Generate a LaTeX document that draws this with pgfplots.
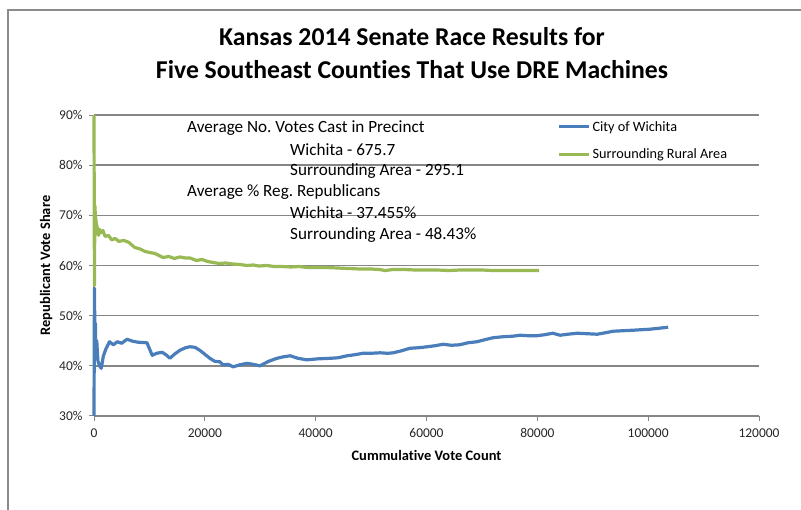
\documentclass[border=0pt]{standalone}
\usepackage{fontspec}
\setmainfont{Carlito}[Ligatures=NoCommon]
\usepackage{pgfplots}
\pgfplotsset{compat=1.18}

\definecolor{wichita}{HTML}{4A7EBB}
\definecolor{rural}{HTML}{98B954}
\definecolor{gridgray}{HTML}{868686}
\definecolor{framegray}{HTML}{8C8C8C}

\pgfplotstableread{
votes share
0 30
80 55.5
150 47
250 48.5
350 42
500 45
700 41
1000 40
1300 39.5
1700 42
2200 43.5
2800 44.8
3500 44.2
4200 44.8
5000 44.5
5950 45.3
7000 44.9
8000 44.7
9560 44.6
10500 42.1
11300 42.5
12300 42.7
13000 42.2
13700 41.5
14500 42.3
15500 43.1
16500 43.6
17300 43.8
18200 43.7
19100 43.1
20000 42.3
20900 41.5
21800 40.9
22700 40.8
23300 40.2
24200 40.3
25100 39.8
26300 40.2
27600 40.5
28700 40.3
29950 40.0
31500 40.9
33000 41.5
34200 41.8
35400 42.0
36800 41.5
38400 41.2
40500 41.4
42600 41.5
44000 41.6
45650 42.0
47000 42.2
48500 42.5
50000 42.5
51600 42.6
53000 42.5
54000 42.6
55500 43.0
57000 43.5
58500 43.6
60100 43.8
61500 44.0
63000 44.3
64500 44.1
66000 44.2
67500 44.6
69100 44.8
70500 45.2
72000 45.6
73800 45.8
75500 45.9
76900 46.1
78400 46.0
79900 46.0
81300 46.2
82800 46.5
84100 46.1
85500 46.3
87200 46.5
89000 46.4
90800 46.3
92300 46.6
93700 46.9
95500 47.0
97300 47.1
98800 47.2
100300 47.3
102000 47.5
103600 47.7
}\wichitadata

\pgfplotstableread{
votes share
0 90
80 56
150 72
250 70
400 68.5
600 67.5
800 66
1000 67.2
1260 66.5
1600 67
2000 65.8
2600 66
3200 65.1
3800 65.4
4500 64.8
5400 65
6300 64.6
7340 63.6
8300 63.3
9200 62.8
10000 62.6
11000 62.4
12450 61.6
13500 61.8
14500 61.4
15500 61.7
16500 61.5
17300 61.5
18500 61.0
19500 61.2
20500 60.8
21500 60.6
22600 60.4
23800 60.5
25000 60.3
26300 60.2
27600 60.0
28700 60.1
29800 59.9
31200 60.0
32500 59.8
34000 59.8
35500 59.7
37000 59.8
38500 59.6
40000 59.6
42000 59.6
44000 59.5
46000 59.4
48000 59.3
50000 59.3
51500 59.2
52500 59.0
54000 59.2
56000 59.2
58000 59.1
60000 59.1
62000 59.1
64000 59.0
66000 59.1
68000 59.1
70000 59.1
72000 59.0
74000 59.0
76000 59.0
78000 59.0
80300 59.0
}\ruraldata

\begin{document}
\frenchspacing
\begin{tikzpicture}
\useasboundingbox (0,0) rectangle (801bp,510bp);
% chart frame (only top and left edges visible)
\draw[framegray, line width=1.5bp] (8bp,0bp) -- (8bp,500bp) -- (801bp,500bp);

\node[font=\fontsize{25.8}{30}\selectfont\bfseries] at (412bp,473bp) {Kansas 2014 Senate Race Results for};
\node[font=\fontsize{25.8}{30}\selectfont\bfseries] at (412bp,440bp) {Five Southeast Counties That Use DRE Machines};

\begin{axis}[
    at={(94bp,94bp)}, anchor=south west,
    width=665bp, height=301bp, scale only axis,
    xmin=0, xmax=120000, ymin=30, ymax=90,
    xtick={0,20000,...,120000},
    ytick={30,40,...,90},
    scaled x ticks=false,
    xticklabel style={/pgf/number format/fixed, /pgf/number format/1000 sep={}, yshift=-4bp},
    yticklabel={\pgfmathprintnumber[fixed]{\tick}\%},
    yticklabel style={xshift=-3bp},
    /pgf/number format/assume math mode=true,
    tick label style={font=\fontsize{13.5}{15}\selectfont, color=black!85},
    axis x line*=bottom, axis y line*=left,
    axis line style={gridgray, line width=1.2bp},
    tick align=outside, major tick length=5bp,
    tick style={gridgray, line width=1bp},
    ymajorgrids, grid style={gridgray, line width=1.6bp},
    xlabel={\bfseries Cummulative Vote Count},
    ylabel={\bfseries Republicant Vote Share},
    label style={font=\fontsize{14.5}{16}\selectfont},
    xlabel style={yshift=-6bp},
    clip=false,
    legend style={at={(0.695,0.99)}, anchor=north west, draw=none, fill=none,
        font=\fontsize{14.3}{16}\selectfont, row sep=12bp, inner sep=1bp},
    legend cell align=left,
    legend image code/.code={\draw[#1, line width=3.2bp] (0bp,0bp) -- (30bp,0bp);},
]
\addplot[wichita, line width=3.2bp, line join=round] table[x=votes, y=share] {\wichitadata};
\addlegendentry{City of Wichita}
\addplot[rural, line width=3.2bp, line join=round] table[x=votes, y=share] {\ruraldata};
\addlegendentry{Surrounding Rural Area}
\end{axis}

\begin{scope}[every node/.style={font=\fontsize{17.2}{20}\selectfont, anchor=west, inner sep=0pt}]
\node at (187bp,382bp) {Average No. Votes Cast in Precinct};
\node at (290bp,360bp) {Wichita - 675.7};
\node at (290bp,339bp) {Surrounding Area - 295.1};
\node at (187bp,318bp) {Average \% Reg. Republicans};
\node at (290bp,297bp) {Wichita - 37.455\%};
\node at (290bp,275bp) {Surrounding Area - 48.43\%};
\end{scope}
\end{tikzpicture}
\end{document}
